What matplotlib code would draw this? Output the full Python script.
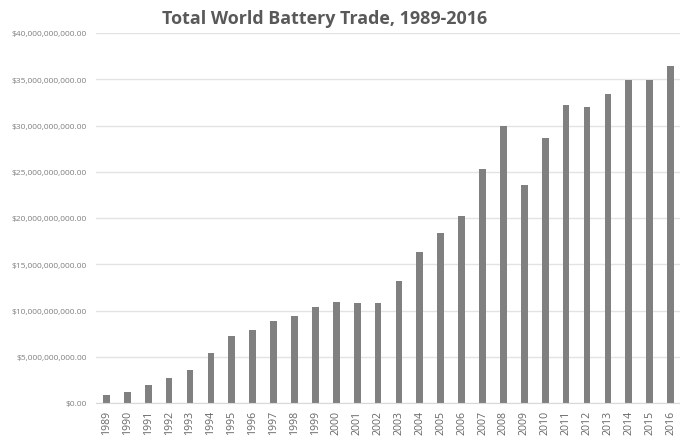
import matplotlib
matplotlib.use("Agg")
import matplotlib.pyplot as plt
from matplotlib.ticker import FuncFormatter, MultipleLocator

years = [str(y) for y in range(1989, 2017)]
trade_billion = [0.9, 1.19, 2.0, 2.7, 3.57, 5.37, 7.24, 7.86, 8.9, 9.4,
                 10.35, 10.9, 10.8, 10.85, 13.2, 16.3, 18.4, 20.25, 25.26, 29.98,
                 23.57, 28.65, 32.2, 32.0, 33.37, 34.9, 34.9, 36.4]
values = [v * 1e9 for v in trade_billion]
title = "Total World Battery Trade, 1989-2016"

plt.rcParams['font.family'] = ['Open Sans', 'DejaVu Sans']

fig = plt.figure(figsize=(6.8, 4.39), dpi=100)
ax = fig.add_axes([96/680, 1-404/439, (681-96)/680, (404-34)/439])

x = list(range(len(years)))
ax.bar(x, values, width=0.32, color='#808080', zorder=3)
ax.set_xlim(-0.5, len(years) - 0.5)
ax.set_ylim(0, 40e9)
ax.yaxis.set_major_locator(MultipleLocator(5e9))
ax.yaxis.set_major_formatter(FuncFormatter(lambda v, p: "${:,.2f}".format(v)))
ax.set_xticks(x)
ax.set_xticklabels(years, rotation=90, fontsize=7.6, color='#666666')
ax.tick_params(axis='y', labelsize=6, colors='#7f7f7f', length=0, pad=6.5)
ax.tick_params(axis='x', length=0, pad=5)
ax.grid(axis='y', color='#e3e3e3', linewidth=1, zorder=0)
for s in ['top', 'right', 'left']:
    ax.spines[s].set_visible(False)
ax.spines['bottom'].set_color('#d9d9d9')
ax.spines['bottom'].set_zorder(4)

fig.text(325/680, 1-19/439, title, ha='center', va='center',
         fontsize=12.9, fontweight='bold', color='#595959')

fig.savefig('out.png', dpi=100)
